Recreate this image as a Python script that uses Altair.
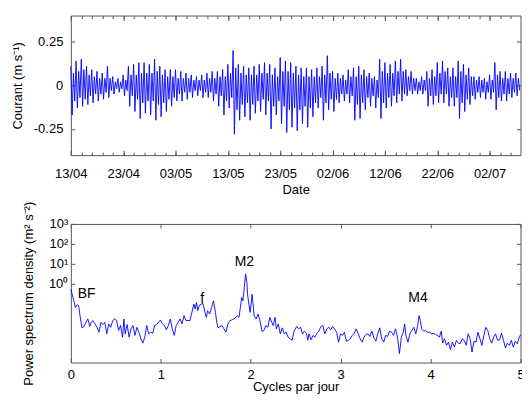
import altair as alt
import pandas as pd
from datetime import datetime, timedelta

# ---------------- data: current time series (two highs / two lows per day, m/s) ----------------
peaks = [
    0.11, 0.07, 0.14, 0.08, 0.15, 0.09, 0.11, 0.06, 0.09, 0.05,
    0.08, 0.04, 0.07, 0.04, 0.11, 0.04, 0.05, 0.02, 0.04, 0.02,
    0.06, 0.03, 0.11, 0.06, 0.12, 0.06, 0.13, 0.07, 0.13, 0.07,
    0.12, 0.07, 0.15, 0.08, 0.11, 0.06, 0.09, 0.05, 0.09, 0.05,
    0.09, 0.04, 0.08, 0.04, 0.07, 0.04, 0.06, 0.03, 0.05, 0.03,
    0.06, 0.03, 0.07, 0.04, 0.08, 0.04, 0.08, 0.05, 0.09, 0.05,
    0.12, 0.07, 0.20, 0.10, 0.12, 0.07, 0.11, 0.06, 0.10, 0.06,
    0.11, 0.06, 0.12, 0.07, 0.13, 0.07, 0.12, 0.06, 0.10, 0.05,
    0.16, 0.08, 0.14, 0.08, 0.13, 0.07, 0.11, 0.06, 0.10, 0.05,
    0.10, 0.05, 0.09, 0.05, 0.10, 0.05, 0.11, 0.06, 0.17, 0.07,
    0.08, 0.04, 0.07, 0.04, 0.06, 0.03, 0.09, 0.05, 0.10, 0.05,
    0.11, 0.06, 0.09, 0.05, 0.07, 0.04, 0.05, 0.03, 0.15, 0.08,
    0.13, 0.07, 0.12, 0.07, 0.14, 0.08, 0.15, 0.08, 0.09, 0.05,
    0.08, 0.04, 0.04, 0.02, 0.05, 0.03, 0.08, 0.04, 0.09, 0.05,
    0.13, 0.07, 0.14, 0.08, 0.10, 0.05, 0.10, 0.05, 0.14, 0.08,
    0.12, 0.06, 0.10, 0.05, 0.05, 0.03, 0.05, 0.03, 0.04, 0.02,
    0.06, 0.03, 0.13, 0.06, 0.08, 0.04, 0.08, 0.04, 0.07, 0.04,
    0.07, 0.04,
]
troughs = [
    -0.17, -0.09, -0.13, -0.07, -0.12, -0.08, -0.11, -0.06, -0.10, -0.05,
    -0.09, -0.05, -0.08, -0.04, -0.07, -0.03, -0.05, -0.02, -0.04, -0.02,
    -0.06, -0.03, -0.12, -0.06, -0.15, -0.08, -0.19, -0.10, -0.16, -0.09,
    -0.17, -0.09, -0.20, -0.11, -0.18, -0.10, -0.15, -0.08, -0.12, -0.07,
    -0.09, -0.05, -0.09, -0.04, -0.08, -0.04, -0.07, -0.03, -0.06, -0.03,
    -0.07, -0.04, -0.07, -0.04, -0.09, -0.05, -0.12, -0.06, -0.17, -0.09,
    -0.13, -0.07, -0.28, -0.14, -0.20, -0.11, -0.18, -0.10, -0.20, -0.11,
    -0.16, -0.09, -0.15, -0.08, -0.17, -0.09, -0.25, -0.12, -0.17, -0.09,
    -0.22, -0.12, -0.27, -0.14, -0.24, -0.13, -0.26, -0.14, -0.22, -0.12,
    -0.24, -0.13, -0.18, -0.10, -0.13, -0.07, -0.20, -0.10, -0.14, -0.08,
    -0.15, -0.08, -0.10, -0.05, -0.09, -0.05, -0.10, -0.06, -0.20, -0.11,
    -0.19, -0.10, -0.14, -0.07, -0.12, -0.06, -0.13, -0.07, -0.19, -0.10,
    -0.13, -0.07, -0.12, -0.06, -0.10, -0.05, -0.09, -0.05, -0.06, -0.03,
    -0.05, -0.03, -0.05, -0.03, -0.05, -0.03, -0.12, -0.06, -0.11, -0.06,
    -0.10, -0.05, -0.10, -0.05, -0.12, -0.07, -0.12, -0.07, -0.19, -0.10,
    -0.15, -0.08, -0.11, -0.06, -0.08, -0.04, -0.07, -0.04, -0.08, -0.04,
    -0.08, -0.04, -0.14, -0.07, -0.09, -0.05, -0.09, -0.05, -0.07, -0.04,
    -0.06, -0.03,
]

# ---------------- data: power spectrum (frequency in cycles/day, log10 of PSD) ----------------
psd_freq = [
    0.000, 0.029, 0.051, 0.073, 0.087, 0.102, 0.124, 0.146, 0.167, 0.189,
    0.211, 0.226, 0.247, 0.269, 0.291, 0.313, 0.335, 0.357, 0.378, 0.400,
    0.422, 0.444, 0.466, 0.488, 0.509, 0.531, 0.553, 0.575, 0.590, 0.604,
    0.626, 0.648, 0.670, 0.691, 0.713, 0.735, 0.757, 0.779, 0.801, 0.822,
    0.844, 0.866, 0.888, 0.910, 0.932, 0.953, 0.975, 0.997, 1.019, 1.041,
    1.063, 1.084, 1.106, 1.128, 1.150, 1.172, 1.194, 1.215, 1.237, 1.259,
    1.281, 1.303, 1.325, 1.346, 1.368, 1.383, 1.397, 1.412, 1.426, 1.448,
    1.470, 1.492, 1.507, 1.521, 1.543, 1.565, 1.587, 1.608, 1.623, 1.638,
    1.659, 1.681, 1.703, 1.725, 1.747, 1.769, 1.790, 1.812, 1.834, 1.849,
    1.870, 1.885, 1.900, 1.914, 1.929, 1.943, 1.958, 1.965, 1.980, 1.994,
    2.016, 2.038, 2.060, 2.082, 2.103, 2.125, 2.147, 2.169, 2.191, 2.213,
    2.234, 2.249, 2.271, 2.285, 2.307, 2.329, 2.351, 2.373, 2.394, 2.416,
    2.438, 2.460, 2.482,
    2.511, 2.533, 2.555, 2.576, 2.598, 2.620, 2.635, 2.649, 2.671, 2.693,
    2.715, 2.737, 2.758, 2.780, 2.802, 2.824, 2.846, 2.868, 2.889, 2.911,
    2.933, 2.955, 2.977, 2.999, 3.020, 3.042, 3.064, 3.086, 3.108, 3.130,
    3.151, 3.173, 3.195, 3.217, 3.239, 3.261, 3.282, 3.304, 3.326, 3.348,
    3.370, 3.392, 3.413, 3.435, 3.457, 3.479, 3.501, 3.523, 3.544, 3.566,
    3.588, 3.610, 3.632, 3.654, 3.675, 3.697, 3.712, 3.726, 3.748, 3.770,
    3.792, 3.814, 3.836, 3.857, 3.872, 3.886, 3.901, 3.923, 3.945, 3.967,
    3.988, 4.010, 4.032, 4.054, 4.076, 4.098, 4.119, 4.134, 4.156, 4.178,
    4.199, 4.221, 4.243, 4.265, 4.287, 4.309, 4.330, 4.352, 4.374, 4.396,
    4.418, 4.440, 4.461, 4.483, 4.505, 4.527, 4.549, 4.571, 4.592, 4.614,
    4.636, 4.658, 4.680, 4.702, 4.723, 4.745, 4.767, 4.789, 4.811, 4.833,
    4.854, 4.876, 4.898, 4.920, 4.942, 4.964, 4.985, 5.000,
]
psd_log10 = [
    -0.30, -0.80, -1.22, -1.08, -1.13, -1.63, -2.25, -2.18, -1.97, -1.80,
    -2.18, -1.97, -1.88, -2.05, -2.22, -2.47, -1.97, -2.08, -1.97, -2.55,
    -2.05, -2.22, -1.88, -1.80, -1.88, -2.38, -2.13, -2.72, -1.80, -2.55,
    -2.08, -2.72, -2.30, -2.13, -2.63, -2.22, -2.47, -2.80, -3.02, -2.72,
    -2.13, -2.55, -2.47, -2.52, -2.13, -2.08, -1.97, -1.85, -2.05, -2.13,
    -2.35, -2.13, -1.80, -2.30, -2.63, -2.13, -1.97, -1.80, -2.05, -1.63,
    -1.88, -1.88, -1.88, -1.47, -1.05, -1.30, -0.97, -1.38, -1.13, -1.05,
    -1.02, -1.47, -1.72, -1.38, -1.55, -1.22, -0.88, -1.47, -1.97, -2.25,
    -2.18, -2.13, -2.30, -2.47, -2.05, -1.88, -1.85, -1.80, -1.72, -1.63,
    -1.72, -1.22, -0.72, -0.88, -0.22, 0.48, 0.03, -0.55, -1.05, -1.47,
    -0.55, -1.63, -1.80, -1.55, -1.88, -2.42, -2.38, -2.13, -2.22, -1.72,
    -1.97, -2.13, -1.72, -2.30, -2.05, -2.55, -2.25, -2.55, -2.47, -2.72,
    -2.80, -2.88, -2.42,
    -2.18, -2.30, -2.22, -2.55, -2.42, -2.52, -2.88, -2.55, -2.85, -2.63,
    -2.72, -2.52, -2.42, -2.18, -2.13, -2.55, -2.30, -2.22, -2.35, -2.18,
    -2.30, -2.47, -2.97, -2.55, -2.63, -2.47, -2.92, -2.88, -2.80, -2.63,
    -2.52, -2.30, -2.55, -2.80, -2.97, -2.72, -2.58, -2.55, -2.68, -2.42,
    -2.75, -2.92, -2.55, -2.25, -2.80, -2.97, -2.63, -2.68, -2.42, -2.47,
    -2.63, -2.30, -2.72, -3.55, -2.72, -2.47, -2.05, -2.63, -2.97, -2.55,
    -2.38, -2.22, -2.55, -2.13, -1.63, -1.88, -2.30, -2.42, -2.38, -2.47,
    -2.47, -2.55, -2.52, -2.58, -2.63, -2.72, -2.42, -3.02, -2.80, -3.13,
    -2.97, -3.35, -2.97, -3.22, -2.88, -3.02, -3.05, -2.80, -2.88, -3.13,
    -2.55, -2.80, -3.47, -2.92, -2.97, -2.47, -2.80, -3.13, -2.63, -2.22,
    -2.38, -2.80, -3.02, -2.72, -2.55, -2.88, -2.85, -2.52, -2.88, -3.27,
    -3.02, -3.13, -2.88, -3.22, -2.92, -3.05, -2.75, -2.60,
]

ann_text = ["BF", "f", "M2", "M4"]
ann_freq = [0.175, 1.46, 1.93, 3.86]
ann_psd = [0.30, 0.166, 12.6, 0.178]

date_ticks_days = [0, 10, 20, 30, 40, 50, 60, 70, 80]
y_ticks_top = [-0.25, 0, 0.25]
y_ticks_bot = [1, 10, 100, 1000]
x_ticks_bot = [0, 1, 2, 3, 4, 5]

# ---------------- build tables ----------------
start = datetime(2010, 4, 13)
current = []
for p, t in zip(peaks, troughs):
    current += [p, t]
times = [(start + timedelta(hours=6 * k)).strftime("%Y-%m-%dT%H:%M:%S") for k in range(len(current))]
ts = pd.DataFrame({"t": times, "v": current})

spec = pd.DataFrame({"f": psd_freq, "p": [10 ** v for v in psd_log10]})
ann = pd.DataFrame({"label": ann_text, "f": ann_freq, "p": ann_psd})


def dt(d):
    x = start + timedelta(days=d)
    return alt.DateTime(year=x.year, month=x.month, date=x.day)


major = [dt(d) for d in date_ticks_days]
minor = [dt(d) for d in range(0, 86, 2)]

W = 451
H1, H2 = 140, 139
FONT = "Liberation Sans"
TICK = "#555555"
BLUE = "#0000ff"


def tick_axis(orient, offset, values, size):
    return alt.Axis(orient=orient, offset=offset, values=values, tickSize=size,
                    labels=False, domain=False, grid=False, title=None,
                    tickColor=TICK, ticks=True)


# ---------------- top panel ----------------
xs_top = alt.Scale(domain=[alt.DateTime(year=2010, month=4, date=13),
                           alt.DateTime(year=2010, month=7, date=7, hours=21, minutes=36)])
ys_top = alt.Scale(domain=[-0.4, 0.4])

x_main_top = alt.Axis(orient="bottom", values=major, format="%d/%m", ticks=False, tickSize=0,
                      domain=False, grid=False, labelPadding=12, labelFlush=False,
                      labelOverlap=False, title="Date", titleY=28, titleBaseline="top")
y_main_top = alt.Axis(orient="left", values=y_ticks_top, ticks=False, tickSize=0, domain=False,
                      grid=False, labelPadding=8,
                      labelExpr="datum.value == 0 ? '0' : (datum.value < 0 ? '-' : '') + format(abs(datum.value), '.2f')",
                      title="Courant (m s\u207b\u00b9)", titleX=-53, titleY=H1 / 2,
                      titleAngle=270, titleBaseline="middle", titleAlign="center")


def top_layer(xaxis, yaxis, opacity):
    return alt.Chart(ts).mark_line(color=BLUE, strokeWidth=0.9, opacity=opacity).encode(
        x=alt.X("t:T", scale=xs_top, axis=xaxis),
        y=alt.Y("v:Q", scale=ys_top, axis=yaxis),
    )


top = alt.layer(
    top_layer(tick_axis("top", -H1, minor, 3), tick_axis("right", -W, y_ticks_top, 4), 0),
    top_layer(tick_axis("bottom", -H1, minor, 3), tick_axis("left", -W, y_ticks_top, 4), 0),
    top_layer(tick_axis("top", -H1, major, 5), None, 0),
    top_layer(tick_axis("bottom", -H1, major, 5), None, 0),
    top_layer(x_main_top, y_main_top, 1),
).resolve_axis(x="independent", y="independent").properties(width=W, height=H1)

# ---------------- bottom panel ----------------
xs_bot = alt.Scale(domain=[0, 5], nice=False)
ys_bot = alt.Scale(type="log", domain=[1e-4, 1e3], nice=False)

x_main_bot = alt.Axis(orient="bottom", values=x_ticks_bot, format="d", ticks=False, tickSize=0,
                      domain=False, grid=False, labelPadding=6, labelFlush=False,
                      labelOverlap=False, title="Cycles par jour", titleY=18,
                      titleBaseline="top")
y_main_bot = alt.Axis(orient="left", values=y_ticks_bot, ticks=False, tickSize=0, domain=False,
                      grid=False, labelPadding=3,
                      labelExpr="datum.value == 1 ? '10\u2070' : datum.value == 10 ? '10\u00b9' : datum.value == 100 ? '10\u00b2' : '10\u00b3'",
                      title="Power spectrum density (m\u00b2 s\u207b\u00b2)", titleX=-42,
                      titleY=H2 / 2, titleAngle=270, titleBaseline="middle", titleAlign="center")


def bot_layer(xaxis, yaxis, opacity):
    return alt.Chart(spec).mark_line(color=BLUE, strokeWidth=0.9, opacity=opacity).encode(
        x=alt.X("f:Q", scale=xs_bot, axis=xaxis),
        y=alt.Y("p:Q", scale=ys_bot, axis=yaxis),
    )


labels = alt.Chart(ann).mark_text(fontSize=14, font=FONT, color="black",
                                  align="center", baseline="middle").encode(
    x=alt.X("f:Q", scale=xs_bot, axis=None),
    y=alt.Y("p:Q", scale=ys_bot, axis=None),
    text="label:N",
)

bottom = alt.layer(
    bot_layer(tick_axis("top", -H2, x_ticks_bot, 4), tick_axis("right", -W, y_ticks_bot, 4), 0),
    bot_layer(tick_axis("bottom", -H2, x_ticks_bot, 4), tick_axis("left", -W, y_ticks_bot, 4), 0),
    bot_layer(x_main_bot, y_main_bot, 1),
    labels,
).resolve_axis(x="independent", y="independent").properties(width=W, height=H2)

chart = alt.vconcat(top, bottom, spacing=69, bounds="flush").properties(
    padding={"left": 3, "top": 6, "right": -3.5, "bottom": 0}
).configure_view(
    stroke=TICK, strokeWidth=1
).configure_axis(
    labelFont=FONT, titleFont=FONT, labelFontSize=13, titleFontSize=13,
    labelColor="black", titleColor="black", titleFontWeight="normal"
).configure_text(font=FONT)

chart.save("out.html", embed_options={"renderer": "svg", "actions": False})
